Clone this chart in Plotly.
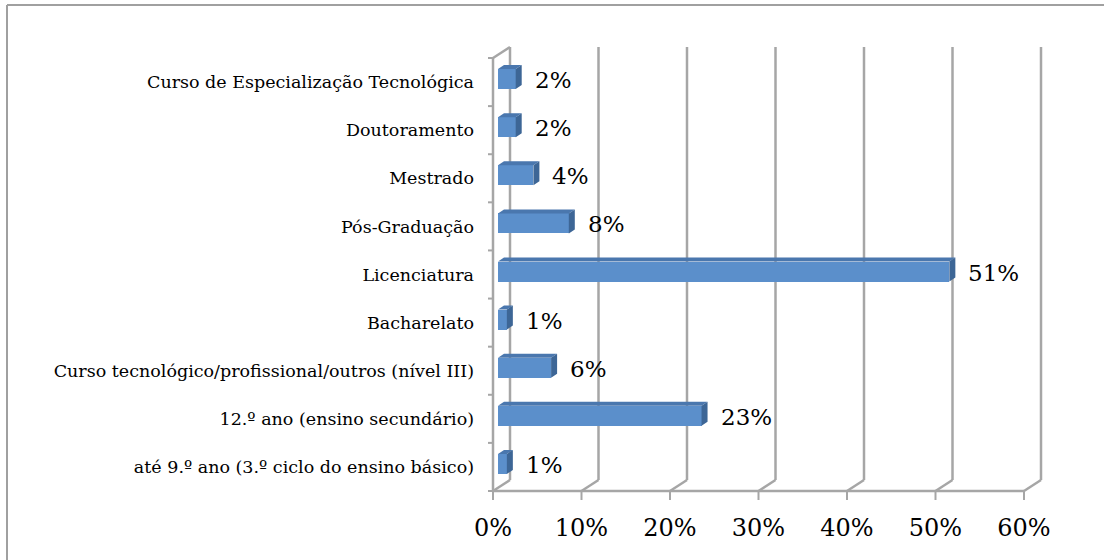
import plotly.graph_objects as go

# ---------------- data ----------------
categories = [
    "até 9.º ano (3.º ciclo do ensino básico)",
    "12.º ano (ensino secundário)",
    "Curso tecnológico/profissional/outros (nível III)",
    "Bacharelato",
    "Licenciatura",
    "Pós-Graduação",
    "Mestrado",
    "Doutoramento",
    "Curso de Especialização Tecnológica",
]
values = [1, 23, 6, 1, 51, 8, 4, 2, 2]
x_ticks = [0, 10, 20, 30, 40, 50, 60]
x_tick_labels = ["0%", "10%", "20%", "30%", "40%", "50%", "60%"]

# ---------------- geometry (pixels -> data units) ----------------
W, H = 1104, 560
X0_PX, X60_PX = 493, 1024          # front plane: 0% and 60%
Y_BOT_PX, Y_TOP_PX = 491, 58       # front plane: bottom / top of category axis
PX_X = (X60_PX - X0_PX) / 60.0
PX_Y = (Y_BOT_PX - Y_TOP_PX) / len(categories)

L, R, T, B = 480, 1050, 40, 503
xr = [(L - X0_PX) / PX_X, (R - X0_PX) / PX_X]
yr = [-0.5 - (B - Y_BOT_PX) / PX_Y, -0.5 + (Y_BOT_PX - T) / PX_Y]

# depth offsets
wall_dx, wall_dy = 17 / PX_X, 11 / PX_Y
bar_dx0, bar_dy0 = 5 / PX_X, 3 / PX_Y
bar_ex, bar_ey = 6 / PX_X, 4 / PX_Y
bar_w = 20 / PX_Y

n = len(categories)
ypos = list(range(n))
y_lo, y_hi = -0.5, n - 0.5

GRID = "#A6A6A6"
FRONT = "#5B8FCB"
TOP = "#4A77AE"
SIDE = "#3D6696"
FONT = "DejaVu Serif"

fig = go.Figure()

# front faces
fig.add_trace(go.Bar(
    x=values, y=ypos, base=bar_dx0, orientation="h",
    width=bar_w, offset=-bar_w / 2 + bar_dy0,
    marker=dict(color=FRONT, line=dict(width=0)),
    hoverinfo="skip", showlegend=False,
))

# top and side faces
tx, ty, sx, sy = [], [], [], []
for v, p in zip(values, ypos):
    x0 = bar_dx0
    x1 = bar_dx0 + v
    yb = p - bar_w / 2 + bar_dy0
    yt = p + bar_w / 2 + bar_dy0
    tx += [x0, x0 + bar_ex, x1 + bar_ex, x1, x0, None]
    ty += [yt, yt + bar_ey, yt + bar_ey, yt, yt, None]
    sx += [x1, x1 + bar_ex, x1 + bar_ex, x1, x1, None]
    sy += [yt, yt + bar_ey, yb + bar_ey, yb, yt, None]
fig.add_trace(go.Scatter(x=tx, y=ty, mode="lines", fill="toself", fillcolor=TOP,
                         line=dict(width=0, color=TOP), hoverinfo="skip", showlegend=False))
fig.add_trace(go.Scatter(x=sx, y=sy, mode="lines", fill="toself", fillcolor=SIDE,
                         line=dict(width=0, color=SIDE), hoverinfo="skip", showlegend=False))

# value labels
for v, p in zip(values, ypos):
    fig.add_annotation(x=bar_dx0 + v, y=p + bar_dy0, text=f"{v}%", showarrow=False,
                       xanchor="left", yanchor="middle", xshift=17, yshift=-1,
                       font=dict(family=FONT, size=23, color="#000000"))

shapes = []
def line(x0, y0, x1, y1, w=2.5, color=GRID):
    shapes.append(dict(type="line", xref="x", yref="y", x0=x0, y0=y0, x1=x1, y1=y1,
                       line=dict(color=color, width=w), layer="below"))

# back wall gridlines and floor diagonals
for v in x_ticks:
    line(v + wall_dx, y_lo + wall_dy, v + wall_dx, y_hi + wall_dy, 2.5)
    line(v, y_lo, v + wall_dx, y_lo + wall_dy, 2.5)
    line(v, y_lo, v, y_lo - 9 / PX_Y, 2)
# front floor edge, left front edge, top-left diagonal
line(0, y_lo, x_ticks[-1], y_lo, 2.5)
line(0, y_lo, 0, y_hi, 2.5)
line(0, y_hi, wall_dx, y_hi + wall_dy, 2.5)
# category tick marks at boundaries
for k in range(n + 1):
    b = y_lo + k
    line(-5 / PX_X, b, 0, b, 2)

# outer chart border (only top and left edges are visible in the frame)
def px_to_paper_x(px):
    return (px - L) / (R - L)
def px_to_paper_y(py):
    return (B - py) / (B - T)
for (ax0, ay0, ax1, ay1) in [(7, 5, 1104, 5), (7, 5, 7, 560)]:
    shapes.append(dict(type="line", xref="paper", yref="paper",
                       x0=px_to_paper_x(ax0), y0=px_to_paper_y(ay0),
                       x1=px_to_paper_x(ax1), y1=px_to_paper_y(ay1),
                       line=dict(color="#A0A0A0", width=2), layer="below"))

fig.update_layout(
    width=W, height=H,
    margin=dict(l=L, r=W - R, t=T, b=H - B, pad=0),
    paper_bgcolor="white", plot_bgcolor="rgba(0,0,0,0)",
    shapes=shapes, showlegend=False, bargap=0,
    xaxis=dict(range=xr, tickvals=x_ticks, ticktext=x_tick_labels, showgrid=False,
               zeroline=False, showline=False, ticks="", ticklabelstandoff=8,
               tickfont=dict(family=FONT, size=24, color="#000000"), fixedrange=True),
    yaxis=dict(range=yr, tickvals=ypos, ticktext=categories, showgrid=False,
               zeroline=False, showline=False, ticks="", ticklabelstandoff=5,
               tickfont=dict(family=FONT, size=17.5, color="#000000"), fixedrange=True),
)

fig.write_html(
    "out.html", config={"displayModeBar": False},
    post_script=("document.documentElement.style.overflow='hidden';"
                 "document.body.style.overflow='hidden';"
                 "document.body.style.margin='0';document.body.style.padding='0';"),
)
